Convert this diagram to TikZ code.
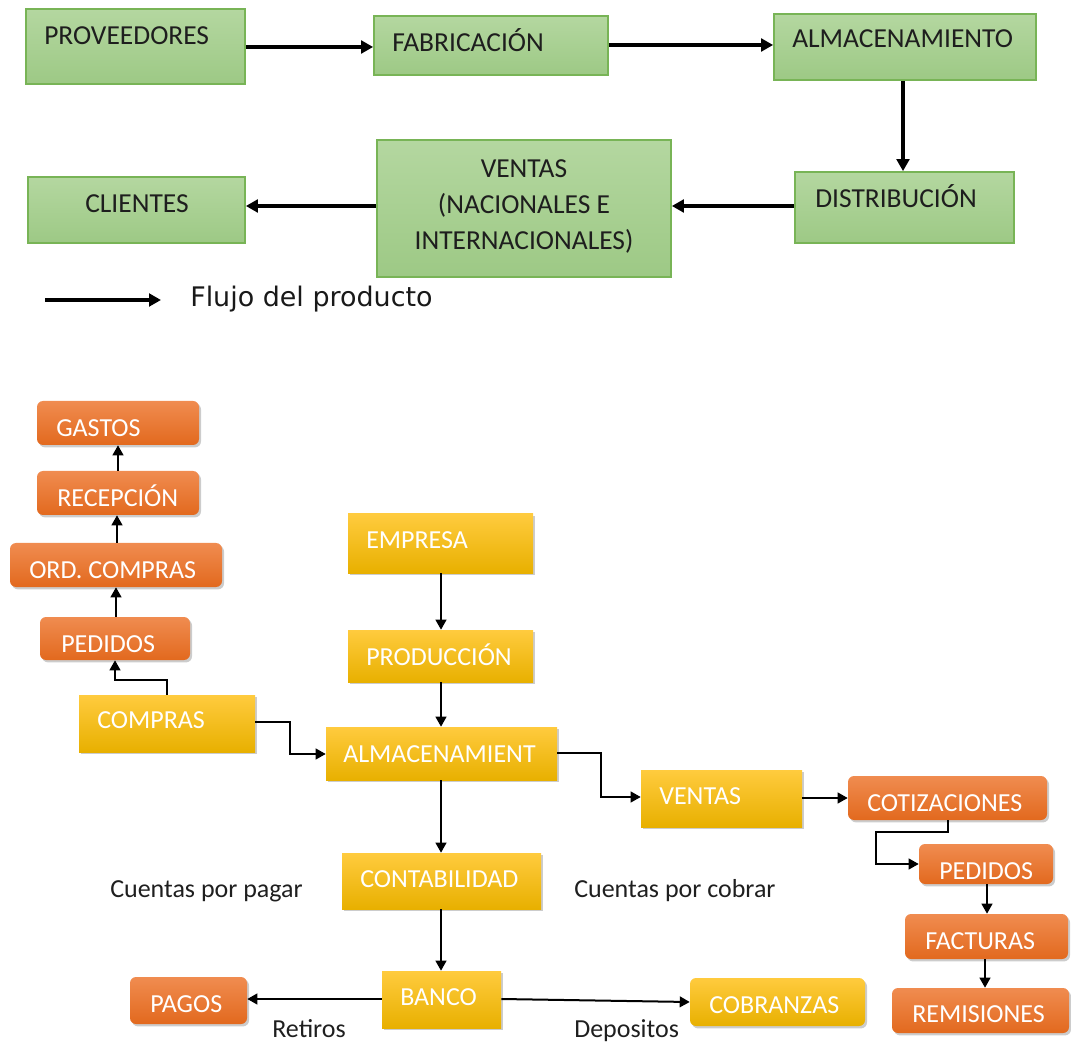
\documentclass[tikz,border=0pt]{standalone}
\usepackage{fontspec}
\setmainfont{Carlito}
\newfontfamily\legendfont{DejaVu Sans}
\usetikzlibrary{arrows.meta,fit,shadows}
\definecolor{gtop}{HTML}{B4D7A0}
\definecolor{gbot}{HTML}{9DC985}
\definecolor{gborder}{HTML}{78B456}
\definecolor{gtxt}{HTML}{1E1E1E}
\definecolor{otop}{HTML}{F08C50}
\definecolor{obot}{HTML}{E2691E}
\definecolor{ytop}{HTML}{FFCB3E}
\definecolor{ymid}{HTML}{FFC200}
\definecolor{ybot}{HTML}{E8B000}
\begin{document}
\begin{tikzpicture}[x=0.75pt,y=-0.75pt,
  gbox/.style={draw=gborder, line width=1.3pt, top color=gtop, bottom color=gbot, inner sep=0pt},
  shd/.style={drop shadow={shadow xshift=1.5pt, shadow yshift=-1.8pt, opacity=0.2, fill=black}},
  obox/.style={shd, rounded corners=4.5pt, top color=otop, bottom color=obot, inner sep=0pt},
  ybox/.style={shd, top color=ytop, middle color=ymid, bottom color=ybot, inner sep=0pt},
  gtext/.style={anchor=base west, inner sep=0pt, font=\fontsize{20.6}{27}\selectfont, text=gtxt},
  wtext/.style={anchor=base west, inner sep=0pt, font=\fontsize{19.5}{23}\selectfont, text=white},
  ltext/.style={anchor=base west, inner sep=0pt, font=\fontsize{19.5}{23}\selectfont, text=black!88},
  arr/.style={-{Triangle[length=9pt,width=9.5pt]}, line width=2.3pt},
  barr/.style={-{Triangle[length=7.5pt,width=8pt]}, line width=1.5pt}]
\useasboundingbox (0,0) rectangle (1071,1044);

% ---------- top: product flow ----------
\node[gbox, fit={(26,9) (245,84)}] (prov) {};
\node[gbox, fit={(374,16) (608,75)}] (fab) {};
\node[gbox, fit={(774,14) (1036,80)}] (alm) {};
\node[gbox, fit={(795,172) (1014,243)}] (dist) {};
\node[gbox, fit={(377,140) (671,277)}] (vent) {};
\node[gbox, fit={(28,177) (245,243)}] (cli) {};

\node[gtext] (provt) at (44,45) {PROVEEDORES};
\node[gtext] (fabt) at (392,52) {FABRICACIÓN};
\node[gtext] (almt) at (792,48) {ALMACENAMIENTO};
\node[gtext] (distt) at (815,208) {DISTRIBUCIÓN};
\node[inner sep=0pt, align=center, font=\fontsize{20.6}{27}\selectfont, text=gtxt] (ventt) at (524,206)
  {VENTAS\\(NACIONALES E\\INTERNACIONALES)};
\node[gtext, anchor=base] (clit) at (137,213) {CLIENTES};

\draw[arr] (prov.east |- 0,47) -- (fab.west |- 0,47);
\draw[arr] (fab.east |- 0,45) -- (alm.west |- 0,45);
\draw[arr] (alm.south -| 903,0) -- (dist.north -| 903,0);
\draw[arr] (dist.west |- 0,206) -- (vent.east |- 0,206);
\draw[arr] (vent.west |- 0,206) -- (cli.east |- 0,206);

\coordinate (l1) at (45,300);
\coordinate (l2) at (161,300);
\draw[arr] (l1) -- (l2);
\node[anchor=base west, inner sep=0pt, font=\legendfont\fontsize{20.2}{24}\selectfont, text=black!90] (legt) at (190,307) {Flujo del producto};

% ---------- bottom: company processes ----------
\node[obox, fit={(37,401) (199,445)}] (gas) {};
\node[obox, fit={(37,471) (199,515)}] (rec) {};
\node[obox, fit={(10,543) (222,587)}] (ord) {};
\node[obox, fit={(40,617) (190,660)}] (ped1) {};
\node[ybox, fit={(79,695) (255,752)}] (comp) {};
\node[ybox, fit={(348,514) (533,573)}] (emp) {};
\node[ybox, fit={(348,630) (533,682)}] (prod) {};
\node[ybox, fit={(326,727) (557,780)}] (almb) {};
\node[ybox, fit={(641,770) (802,827)}] (ventb) {};
\node[obox, fit={(848,776) (1047,820)}] (cot) {};
\node[obox, fit={(919,844) (1053,884)}] (ped2) {};
\node[obox, fit={(905,914) (1068,959)}] (fac) {};
\node[obox, fit={(892,988) (1069,1033)}] (rem) {};
\node[ybox, fit={(342,853) (541,909)}] (cont) {};
\node[ybox, fit={(382,971) (501,1028)}] (ban) {};
\node[obox, fit={(130,977) (247,1024)}] (pag) {};
\node[ybox, rounded corners=4.5pt, fit={(690,978) (865,1026)}] (cob) {};

\node[wtext] (gast) at (56,437) {GASTOS};
\node[wtext] (rect) at (57,507) {RECEPCIÓN};
\node[wtext] (ordt) at (29,579) {ORD. COMPRAS};
\node[wtext] (ped1t) at (61,652) {PEDIDOS};
\node[wtext] (compt) at (97,728) {COMPRAS};
\node[wtext] (empt) at (366,548) {EMPRESA};
\node[wtext] (prodt) at (366,665) {PRODUCCIÓN};
\node[wtext] (almbt) at (343,762) {ALMACENAMIENT};
\node[wtext] (ventbt) at (659,804) {VENTAS};
\node[wtext] (cott) at (867,811) {COTIZACIONES};
\node[wtext] (ped2t) at (939,879) {PEDIDOS};
\node[wtext] (fact) at (925,949) {FACTURAS};
\node[wtext] (remt) at (912,1022) {REMISIONES};
\node[wtext] (contt) at (360,887) {CONTABILIDAD};
\node[wtext] (bant) at (400,1005) {BANCO};
\node[wtext] (pagt) at (150,1012) {PAGOS};
\node[wtext] (cobt) at (709,1013) {COBRANZAS};

\node[ltext] (cpp) at (110,897) {Cuentas por pagar};
\node[ltext] (cpc) at (574,897) {Cuentas por cobrar};
\node[ltext] (ret) at (272,1037) {Retiros};
\node[ltext] (dep) at (574,1037) {Depositos};

\draw[barr] (ped1.north -| 116,0) -- (ord.south -| 116,0);
\draw[barr] (ord.north -| 117,0) -- (rec.south -| 117,0);
\draw[barr] (rec.north -| 118,0) -- (gas.south -| 118,0);
\draw[barr] (comp.north) -- ++(0,-15) -| (ped1.south -| 115,0);
\draw[barr] (comp.east |- 0,722) -| (290,754) -- (almb.west |- 0,754);
\draw[barr] (emp.south -| 441,0) -- (prod.north -| 441,0);
\draw[barr] (prod.south -| 441,0) -- (almb.north -| 441,0);
\draw[barr] (almb.east |- 0,753) -| (601,797) -- (ventb.west |- 0,797);
\draw[barr] (ventb.east |- 0,798) -- (cot.west |- 0,798);
\draw[barr] (cot.south -| 948,0) |- (876,832) |- (ped2.west |- 0,864);
\draw[barr] (ped2.south -| 987,0) -- (fac.north -| 987,0);
\draw[barr] (fac.south -| 985,0) -- (rem.north -| 985,0);
\draw[barr] (almb.south -| 441,0) -- (cont.north -| 441,0);
\draw[barr] (cont.south -| 441,0) -- (ban.north -| 441,0);
\draw[barr] (ban.west |- 0,999) -- (pag.east |- 0,999);
\draw[barr] (ban.east |- 0,999) -- (cob.west |- 0,1002);
\end{tikzpicture}
\end{document}
